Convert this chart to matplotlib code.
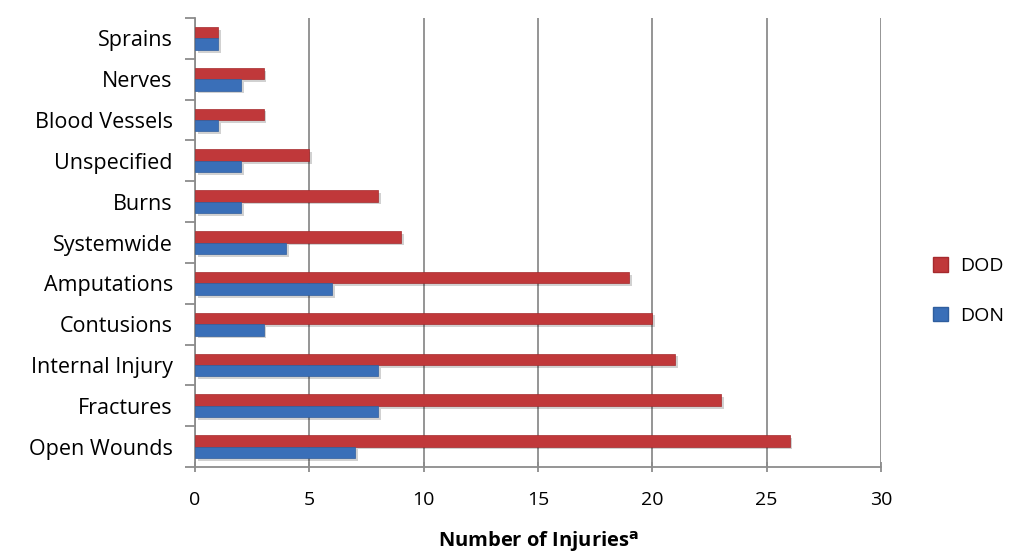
import numpy as np
import matplotlib.pyplot as plt
import matplotlib.patheffects as pe
from matplotlib.patches import Patch

categories = ['Sprains', 'Nerves', 'Blood Vessels', 'Unspecified', 'Burns',
              'Systemwide', 'Amputations', 'Contusions', 'Internal Injury',
              'Fractures', 'Open Wounds']
dod = [1, 3, 3, 5, 8, 9, 19, 20, 21, 23, 26]
don = [1, 2, 1, 2, 2, 4, 6, 3, 8, 8, 7]
x_ticks = [0, 5, 10, 15, 20, 25, 30]

red = '#C0383A'
blue = '#3A6FB8'
grid_col = '#8C8C8C'

plt.rcParams['font.family'] = ['Open Sans', 'DejaVu Sans']

fig = plt.figure(figsize=(10.14, 5.55), dpi=100)
ax = fig.add_axes([195 / 1014, 88 / 555, 686 / 1014, 449 / 555])

y = np.arange(len(categories))
h = 0.28
shadow = [pe.SimplePatchShadow(offset=(2, -2), shadow_rgbFace='#000000', alpha=0.18), pe.Normal()]
ax.barh(y - h / 2, dod, height=h, color=red, edgecolor='#A52A2D', linewidth=0.5,
        path_effects=shadow, zorder=3)
ax.barh(y + h / 2, don, height=h, color=blue, edgecolor='#2F5E9E', linewidth=0.5,
        path_effects=shadow, zorder=3)

ax.set_xlim(0, 30)
ax.set_ylim(len(categories) - 0.5, -0.5)
ax.set_xticks(x_ticks)
ax.set_xticklabels([str(t) for t in x_ticks], fontsize=14)
ax.xaxis.grid(True, color=grid_col, linewidth=1.3, zorder=0)
ax.set_axisbelow(True)

# category labels sit between the tick marks, which mark the band edges
ax.set_yticks(np.arange(len(categories) + 1) - 0.5)
ax.set_yticklabels([])
ax.set_yticks(y, minor=True)
ax.set_yticklabels(categories, minor=True, fontsize=15.5)
ax.tick_params(axis='y', which='minor', length=0, pad=16)
ax.tick_params(axis='y', which='major', length=7, width=1.3, color=grid_col, direction='out')
ax.tick_params(axis='x', length=7, width=1.3, color=grid_col, direction='inout', pad=14)

for s in ['top', 'right']:
    ax.spines[s].set_visible(False)
for s in ['left', 'bottom']:
    ax.spines[s].set_color(grid_col)
    ax.spines[s].set_linewidth(1.3)

ax.set_xlabel('Number of Injuries$^{\\mathbf{a}}$', fontsize=14.5, fontweight='bold', labelpad=14)

handles = [Patch(facecolor=red, edgecolor='#A52A2D'), Patch(facecolor=blue, edgecolor='#2F5E9E')]
fig.legend(handles, ['DOD', 'DON'], loc='center left', bbox_to_anchor=(915 / 1014, 264 / 555),
           frameon=False, fontsize=14, handlelength=0.8, handleheight=0.8,
           handletextpad=0.6, labelspacing=1.6)

fig.savefig('out.png', dpi=100)
